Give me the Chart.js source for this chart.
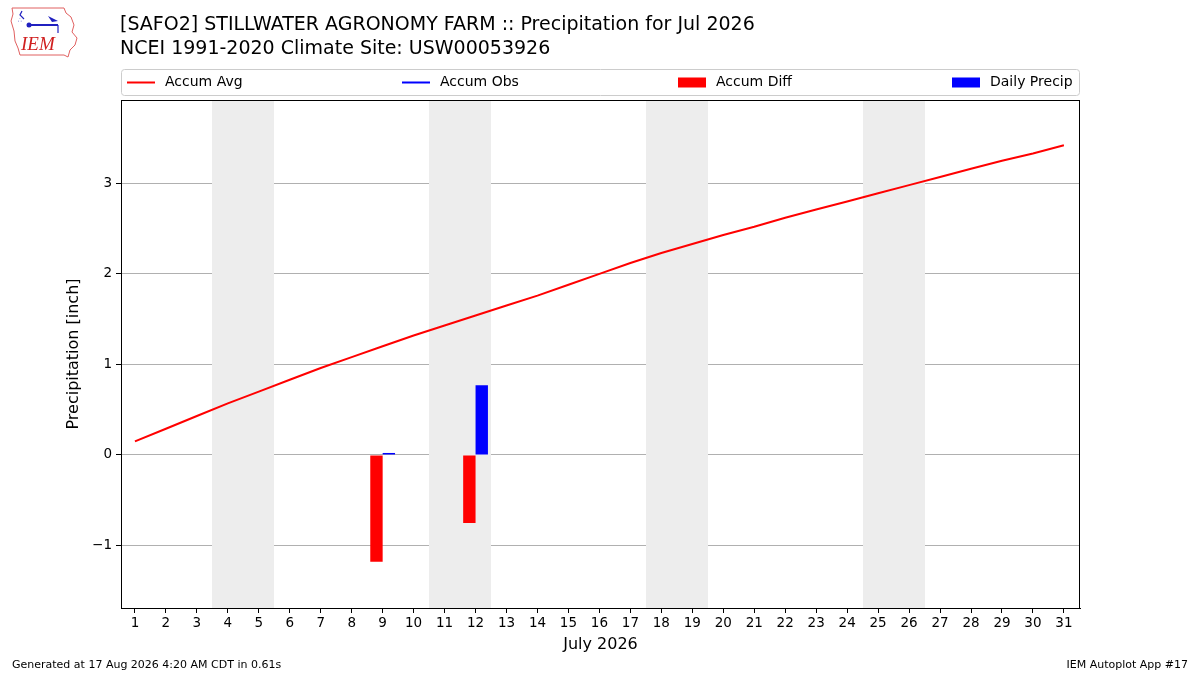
<!DOCTYPE html>
<html>
<head>
<meta charset="utf-8">
<script src="https://cdn.jsdelivr.net/npm/chart.js@4.4.1/dist/chart.umd.min.js"></script>
<style>
body { margin: 0; background: #fff; font-family: "DejaVu Sans", sans-serif; }
#wrap { position: relative; width: 1200px; height: 675px; overflow: hidden; }
#c { position: absolute; left: 0; top: 0; }
.ttl { position: absolute; left: 120px; top: 11px; font-size: 19px; line-height: 24px; color: #000; }
.foot { position: absolute; top: 658px; font-size: 11px; color: #000; }
#logo { position: absolute; left: 8px; top: 5px; }
</style>
</head>
<body>
<div id="wrap">
  <canvas id="c" width="1200" height="675"></canvas>
  <svg id="logo" width="74" height="56" viewBox="0 0 74 56">
    <path d="M4 3 L56 3 L58 8 L63 12 L66 20 L64 27 L69 33 L67 40 L62 45 L60 52 L56 50 L12 50 L10 43 L7 36 L6 26 L3 16 L5 9 Z"
          fill="none" stroke="#e06060" stroke-width="1"/>
    <path d="M14 6 L12 10 L16 14" fill="none" stroke="#2020c0" stroke-width="1.2"/>
    <line x1="20" y1="20" x2="50" y2="20" stroke="#2020c0" stroke-width="2"/>
    <circle cx="21" cy="20" r="2.5" fill="#2020c0"/>
    <path d="M40 11 L50 16 L44 17 Z" fill="#2020c0"/>
    <line x1="50" y1="20" x2="50" y2="28" stroke="#2020c0" stroke-width="1.2"/>
    <text x="10" y="17" font-size="6" fill="#2020c0">&#8756;</text>
    <text x="13" y="45" font-family="Liberation Serif, serif" font-style="italic" font-size="19" fill="#d02020">IEM</text>
  </svg>
  <div class="ttl">[SAFO2] STILLWATER AGRONOMY FARM :: Precipitation for Jul 2026<br>NCEI 1991-2020 Climate Site: USW00053926</div>
  <div class="foot" style="left:12px;">Generated at 17 Aug 2026 4:20 AM CDT in 0.61s</div>
  <div class="foot" style="right:12px;">IEM Autoplot App #17</div>
</div>
<script>
const days = [1,2,3,4,5,6,7,8,9,10,11,12,13,14,15,16,17,18,19,20,21,22,23,24,25,26,27,28,29,30,31];
const accumAvg = [0.15,0.29,0.43,0.57,0.70,0.83,0.96,1.08,1.20,1.32,1.43,1.54,1.65,1.76,1.88,2.00,
                  2.12,2.23,2.33,2.43,2.52,2.62,2.71,2.80,2.89,2.98,3.07,3.16,3.25,3.33,3.42];
const accumObs = [null,null,null,null,null,null,null,null,0.02,null,null,0.79,null,null,null,null,
                  null,null,null,null,null,null,null,null,null,null,null,null,null,null,null];
const accumDiff = [null,null,null,null,null,null,null,null,-1.18,null,null,-0.75,null,null,null,null,
                   null,null,null,null,null,null,null,null,null,null,null,null,null,null,null];
const dailyPrecip = [null,null,null,null,null,null,null,null,0.01,null,null,0.77,null,null,null,null,
                     null,null,null,null,null,null,null,null,null,null,null,null,null,null,null];
const weekends = [[4,5],[11,12],[18,19],[25,26]];
const yTicks = [-1,0,1,2,3];

const pts = arr => days.map((d, i) => ({x: d, y: arr[i]}));
const FONT = '"DejaVu Sans", sans-serif';

const shadePlugin = {
  id: 'shade',
  beforeDatasetsDraw(chart) {
    const {ctx, chartArea: a, scales: {x}} = chart;
    ctx.save();
    ctx.fillStyle = '#ededed';
    weekends.forEach(([d0, d1]) => {
      const x0 = Math.round(x.getPixelForValue(d0 - 0.5));
      const x1 = Math.round(x.getPixelForValue(d1 + 0.5));
      ctx.fillRect(x0, a.top, x1 - x0, a.bottom - a.top);
    });
    ctx.restore();
  }
};

const framePlugin = {
  id: 'frame',
  afterDraw(chart) {
    const {ctx, chartArea: a} = chart;
    ctx.save();
    ctx.strokeStyle = '#000';
    ctx.lineWidth = 1;
    ctx.strokeRect(Math.round(a.left) + 0.5, Math.round(a.top) + 0.5,
                   Math.round(a.right - a.left) - 1, Math.round(a.bottom - a.top));
    // legend
    const lx = a.left, ly = 69, lw = a.right - a.left, lh = 26;
    ctx.fillStyle = '#fff';
    ctx.strokeStyle = '#cccccc';
    ctx.beginPath();
    ctx.roundRect(lx + 0.5, ly + 0.5, lw - 1, lh, 3);
    ctx.fill();
    ctx.stroke();
    const items = chart.data.datasets;
    const offs = [6, 281, 557, 831];
    ctx.font = '14px ' + FONT;
    ctx.textBaseline = 'middle';
    const cy = ly + lh / 2 + 0.5;
    items.forEach((ds, i) => {
      const ix = lx + offs[i];
      if (ds.type === 'line') {
        ctx.strokeStyle = ds.borderColor;
        ctx.lineWidth = 2;
        ctx.beginPath();
        ctx.moveTo(ix, cy);
        ctx.lineTo(ix + 28, cy);
        ctx.stroke();
      } else {
        ctx.fillStyle = ds.backgroundColor;
        ctx.fillRect(ix, cy - 5, 28, 10);
      }
      ctx.fillStyle = '#000';
      ctx.fillText(ds.label, ix + 38, cy);
    });
    ctx.restore();
  }
};

new Chart(document.getElementById('c'), {
  type: 'bar',
  data: {
    datasets: [
      { type: 'line', label: 'Accum Avg', data: pts(accumAvg), borderColor: '#ff0000',
        backgroundColor: '#ff0000', borderWidth: 2, pointRadius: 0, tension: 0, order: 0 },
      { type: 'line', label: 'Accum Obs', data: pts(accumObs), borderColor: '#0000ff',
        backgroundColor: '#0000ff', borderWidth: 2, pointRadius: 0, spanGaps: false, order: 1 },
      { type: 'bar', label: 'Accum Diff', data: pts(accumDiff), backgroundColor: '#ff0000',
        borderWidth: 0, categoryPercentage: 0.8, barPercentage: 1.0, order: 2 },
      { type: 'bar', label: 'Daily Precip', data: pts(dailyPrecip), backgroundColor: '#0000ff',
        borderWidth: 0, minBarLength: 2, categoryPercentage: 0.8, barPercentage: 1.0, order: 3 }
    ]
  },
  options: {
    responsive: false,
    animation: false,
    devicePixelRatio: 1,
    layout: { padding: { top: 100, right: 120, left: 0, bottom: 0 } },
    plugins: { legend: { display: false }, tooltip: { enabled: false } },
    scales: {
      x: {
        type: 'linear', min: 0.55, max: 31.52, offset: false,
        afterBuildTicks: s => { s.ticks = days.map(v => ({value: v})); },
        afterFit: s => { s.height = 67; },
        ticks: { color: '#000', font: { size: 13.5, family: FONT }, autoSkip: false, maxRotation: 0, padding: 2 },
        grid: { drawOnChartArea: false, offset: false, tickColor: '#000', tickLength: 5 },
        border: { color: '#000', width: 1 },
        title: { display: true, text: 'July 2026', color: '#000', font: { size: 16, family: FONT },
                 padding: { top: 0, bottom: 21 } }
      },
      y: {
        min: -1.69, max: 3.92,
        afterBuildTicks: s => { s.ticks = yTicks.map(v => ({value: v})); },
        afterFit: s => { s.width = 121; },
        ticks: { color: '#000', font: { size: 13.5, family: FONT }, padding: 4,
                 callback: v => v < 0 ? '\u2212' + Math.abs(v) : String(v) },
        grid: { color: '#b0b0b0', tickColor: '#000', tickLength: 5 },
        border: { color: '#000', width: 1 },
        title: { display: true, text: 'Precipitation [inch]', color: '#000', font: { size: 16, family: FONT },
                 padding: { top: 64, bottom: 0 } }
      }
    }
  },
  plugins: [shadePlugin, framePlugin]
});
</script>
</body>
</html>
